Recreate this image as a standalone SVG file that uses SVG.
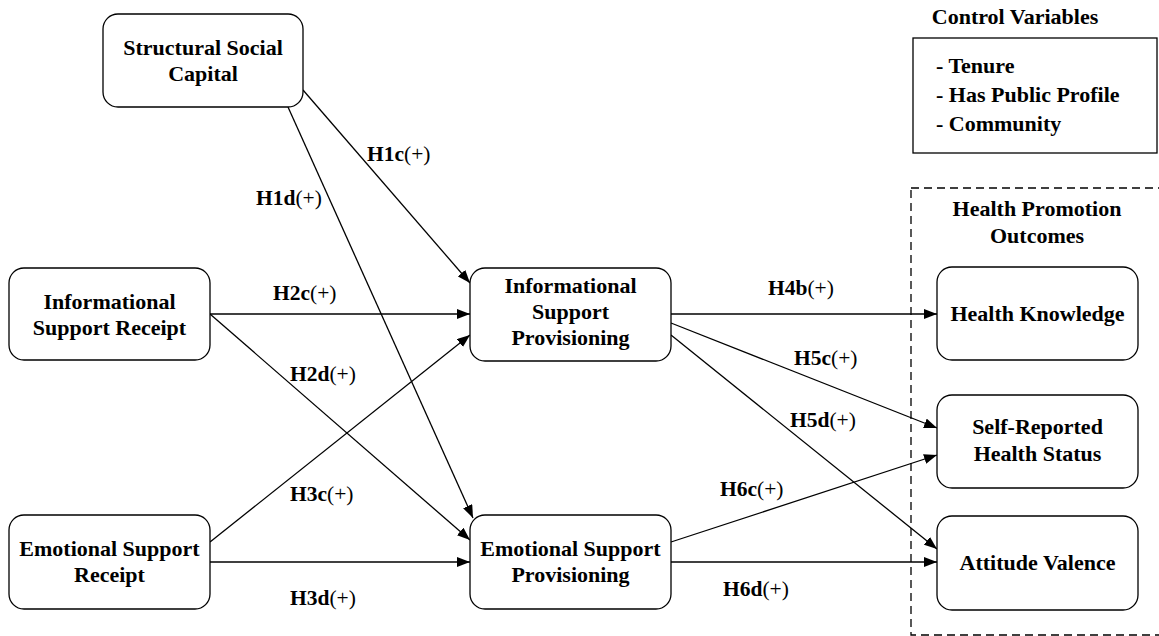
<svg xmlns="http://www.w3.org/2000/svg" width="1159" height="636" viewBox="0 0 1159 636">
<style>
text{font-family:"Liberation Serif","Times New Roman",serif;fill:#000;}
.n{font-size:22px;font-weight:bold;text-anchor:middle;}
.l{font-size:21.5px;}
.b{font-weight:bold;}
.box{fill:#fff;stroke:#000;stroke-width:1.3;}
.c{stroke:#000;stroke-width:1.3;fill:none;marker-end:url(#ah);}
</style>
<defs>
<marker id="ah" markerUnits="userSpaceOnUse" markerWidth="13" markerHeight="10" refX="13" refY="5" orient="auto">
<path d="M0,0 L13,5 L0,10 z" fill="#000"/>
</marker>
</defs>
<rect x="911" y="188" width="260" height="447" fill="none" stroke="#000" stroke-width="1.3" stroke-dasharray="8,5"/>
<g id="connectors">
<line class="c" x1="303" y1="90" x2="470" y2="283"/>
<line class="c" x1="288" y1="107" x2="473" y2="518"/>
<line class="c" x1="210" y1="314" x2="470" y2="314"/>
<line class="c" x1="210" y1="314" x2="470" y2="540"/>
<line class="c" x1="210" y1="542" x2="470" y2="335"/>
<line class="c" x1="210" y1="562" x2="470" y2="562"/>
<line class="c" x1="671" y1="314" x2="937" y2="314"/>
<line class="c" x1="671" y1="323" x2="937" y2="428"/>
<line class="c" x1="671" y1="335" x2="937" y2="549"/>
<line class="c" x1="671" y1="542" x2="937" y2="455"/>
<line class="c" x1="671" y1="562" x2="937" y2="562"/>
</g>
<g id="labels">
<text class="l" x="367" y="161"><tspan class="b">H1c</tspan>(+)</text>
<text class="l" x="256" y="205"><tspan class="b">H1d</tspan>(+)</text>
<text class="l" x="273" y="300"><tspan class="b">H2c</tspan>(+)</text>
<text class="l" x="290" y="381"><tspan class="b">H2d</tspan>(+)</text>
<text class="l" x="290" y="501"><tspan class="b">H3c</tspan>(+)</text>
<text class="l" x="290" y="605"><tspan class="b">H3d</tspan>(+)</text>
<text class="l" x="768" y="295"><tspan class="b">H4b</tspan>(+)</text>
<text class="l" x="794" y="365"><tspan class="b">H5c</tspan>(+)</text>
<text class="l" x="790" y="427"><tspan class="b">H5d</tspan>(+)</text>
<text class="l" x="720" y="496"><tspan class="b">H6c</tspan>(+)</text>
<text class="l" x="723" y="596"><tspan class="b">H6d</tspan>(+)</text>
</g>
<g id="ssc">
<rect class="box" x="103" y="14" width="200" height="93" rx="15"/>
<text class="n" x="203" y="55">Structural Social</text>
<text class="n" x="203" y="81">Capital</text>
</g>
<g id="isr">
<rect class="box" x="9" y="268" width="201" height="92" rx="15"/>
<text class="n" x="109.5" y="309">Informational</text>
<text class="n" x="109.5" y="335">Support Receipt</text>
</g>
<g id="esr">
<rect class="box" x="9" y="515" width="201" height="94" rx="15"/>
<text class="n" x="109.5" y="556">Emotional Support</text>
<text class="n" x="109.5" y="582">Receipt</text>
</g>
<g id="isp">
<rect class="box" x="470" y="268" width="201" height="93" rx="15"/>
<text class="n" x="570.5" y="293">Informational</text>
<text class="n" x="570.5" y="319">Support</text>
<text class="n" x="570.5" y="345">Provisioning</text>
</g>
<g id="esp">
<rect class="box" x="470" y="515" width="201" height="94" rx="15"/>
<text class="n" x="570.5" y="556">Emotional Support</text>
<text class="n" x="570.5" y="582">Provisioning</text>
</g>
<g id="hpo-title">
<text class="n" x="1037" y="216">Health Promotion</text>
<text class="n" x="1037" y="243">Outcomes</text>
</g>
<g id="hk">
<rect class="box" x="937" y="267" width="201" height="93" rx="15"/>
<text class="n" x="1037.5" y="321">Health Knowledge</text>
</g>
<g id="srhs">
<rect class="box" x="937" y="395" width="201" height="93" rx="15"/>
<text class="n" x="1037.5" y="434">Self-Reported</text>
<text class="n" x="1037.5" y="461">Health Status</text>
</g>
<g id="av">
<rect class="box" x="937" y="516" width="201" height="94" rx="15"/>
<text class="n" x="1037.5" y="570">Attitude Valence</text>
</g>
<g id="controls">
<text class="n" x="1015" y="24">Control Variables</text>
<rect x="913" y="38" width="244" height="115" fill="#fff" stroke="#000" stroke-width="1.3"/>
<text class="n" x="936" y="73" style="text-anchor:start">- Tenure</text>
<text class="n" x="936" y="102" style="text-anchor:start">- Has Public Profile</text>
<text class="n" x="936" y="131" style="text-anchor:start">- Community</text>
</g>
</svg>
